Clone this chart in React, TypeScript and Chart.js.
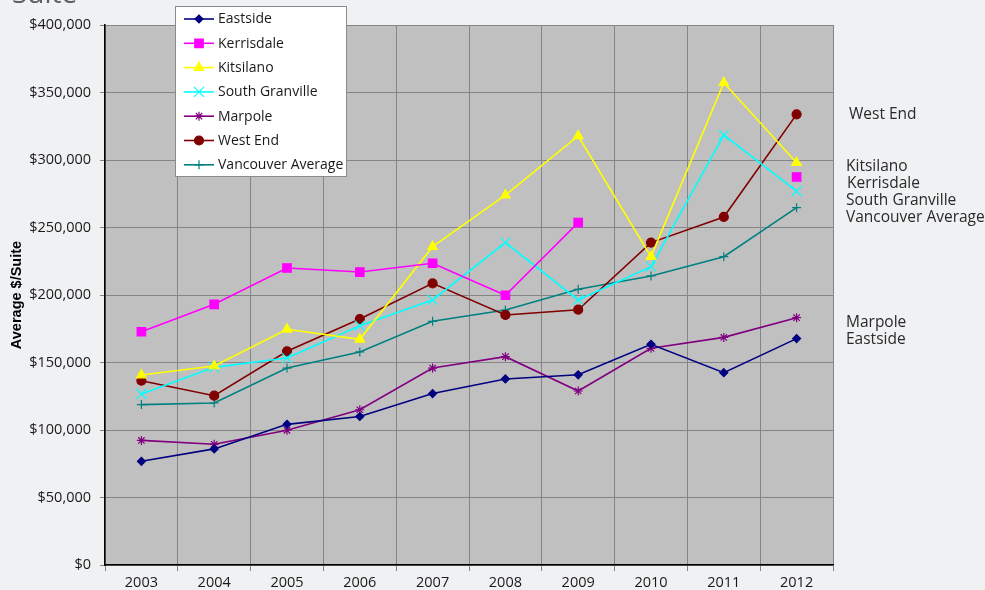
import React, { useEffect, useRef } from 'react';
import { Chart, registerables } from 'chart.js';
import { drawPoint } from 'chart.js/helpers';

Chart.register(...registerables);

const years = ['2003', '2004', '2005', '2006', '2007', '2008', '2009', '2010', '2011', '2012'];
const eastside = [76800, 86000, 104200, 110000, 127000, 137800, 140900, 163500, 142500, 167700];
const kerrisdale = [172800, 193100, 220000, 217000, 223500, 199800, 253600, null, null, 287400];
const kitsilano = [140700, 147400, 174600, 167200, 235800, 274000, 317800, 228400, 357300, 298000];
const southGranville = [126700, 146400, 153300, 177300, 196300, 238800, 196300, 221000, 318500, 277000];
const marpole = [92300, 89400, 99800, 115000, 145900, 154300, 128900, 160500, 168600, 183200];
const westEnd = [136500, 125400, 158300, 182200, 208600, 185200, 189100, 238800, 257800, 333800];
const vancouverAverage = [118800, 120000, 145900, 157800, 180500, 188900, 204200, 214100, 228400, 264700];

const yMin = 0;
const yMax = 400000;
const yStep = 50000;
const yTitle = 'Average $/Suite';
const pageTitle = 'Suite';

const seriesNames = ['Eastside', 'Kerrisdale', 'Kitsilano', 'South Granville', 'Marpole', 'West End', 'Vancouver Average'];
const seriesData = [eastside, kerrisdale, kitsilano, southGranville, marpole, westEnd, vancouverAverage];
const seriesColors = ['#000080', '#ff00ff', '#ffff00', '#00ffff', '#800080', '#800000', '#008080'];
const seriesMarkers = ['rectRot', 'rect', 'triangle', 'crossRot', 'star', 'circle', 'cross'];
const seriesRadius = [4, 6, 5.5, 7, 4.5, 4.5, 4.5];

// right-hand end labels
const endLabels = ['West End', 'Kitsilano', 'Kerrisdale', 'South Granville', 'Vancouver Average', 'Marpole', 'Eastside'];
const endLabelY = [115, 167, 184, 201, 218, 323, 340];
const endLabelX = [849, 846, 847, 846, 846, 846, 846];

const FONT = '"Open Sans", "Noto Sans", sans-serif';

const decorPlugin = {
  id: 'decor',
  beforeDraw(chart: any) {
    const { ctx, chartArea: a, width, height } = chart;
    ctx.save();
    ctx.fillStyle = '#f0f1f3';
    ctx.fillRect(0, 0, width, height);
    ctx.fillStyle = '#c0c0c0';
    ctx.fillRect(a.left, a.top, a.right - a.left, a.bottom - a.top);
    // partial slide title (cut off at the top)
    ctx.fillStyle = '#5f5f5f';
    ctx.font = `28px ${FONT}`;
    ctx.textBaseline = 'alphabetic';
    ctx.textAlign = 'left';
    ctx.fillText(pageTitle, 12, 3);
    ctx.restore();
  },
  afterDraw(chart: any) {
    const { ctx } = chart;
    ctx.save();
    const lx = 175.5, ly = 6.5, lw = 171, lh = 170;
    ctx.fillStyle = '#ffffff';
    ctx.fillRect(lx, ly, lw, lh);
    ctx.strokeStyle = '#8a8a8a';
    ctx.lineWidth = 1;
    ctx.strokeRect(lx, ly, lw, lh);
    ctx.font = `14px ${FONT}`;
    ctx.textBaseline = 'middle';
    ctx.textAlign = 'left';
    seriesNames.forEach((name, i) => {
      const y = 19 + i * 24.3;
      ctx.strokeStyle = seriesColors[i];
      ctx.lineWidth = 1.6;
      ctx.beginPath();
      ctx.moveTo(184, y);
      ctx.lineTo(214, y);
      ctx.stroke();
      ctx.fillStyle = seriesColors[i];
      ctx.strokeStyle = seriesColors[i];
      ctx.lineWidth = 1.2;
      drawPoint(ctx, { pointStyle: seriesMarkers[i] as any, rotation: 0, radius: seriesRadius[i], borderWidth: 1.2 } as any, 199, y);
      ctx.fillStyle = '#1a1a1a';
      ctx.fillText(name, 218, y + 0.5);
    });
    ctx.font = `15.5px ${FONT}`;
    ctx.fillStyle = '#2a2a2a';
    endLabels.forEach((t, i) => {
      ctx.fillText(t, endLabelX[i], endLabelY[i]);
    });
    ctx.restore();
  },
};

export default function App() {
  const ref = useRef<HTMLCanvasElement>(null);
  useEffect(() => {
    if (!ref.current) return;
    const chart = new Chart(ref.current, {
      type: 'line',
      data: {
        labels: years,
        datasets: seriesNames.map((name, i) => ({
          label: name,
          data: seriesData[i],
          borderColor: seriesColors[i],
          backgroundColor: seriesColors[i],
          pointBackgroundColor: seriesColors[i],
          pointBorderColor: seriesColors[i],
          pointStyle: seriesMarkers[i] as any,
          pointRadius: seriesRadius[i],
          pointBorderWidth: 1.2,
          borderWidth: 1.6,
          spanGaps: false,
          tension: 0,
          fill: false,
        })),
      },
      options: {
        animation: false,
        responsive: false,
        events: [],
        layout: { padding: { top: 25, right: 152, left: 0, bottom: 0 } },
        plugins: { legend: { display: false }, tooltip: { enabled: false }, title: { display: false } },
        scales: {
          x: {
            offset: true,
            grid: { offset: true, color: '#858585', lineWidth: 1, tickLength: 6, drawTicks: true },
            border: { color: '#000000', width: 1.5 },
            ticks: { color: '#1a1a1a', font: { family: FONT, size: 14.5 }, padding: 3, maxRotation: 0, autoSkip: false },
            afterFit: (s: any) => { s.height = 25; },
          },
          y: {
            min: yMin,
            max: yMax,
            ticks: {
              stepSize: yStep,
              color: '#1a1a1a',
              font: { family: FONT, size: 14.5 },
              padding: 9,
              callback: (v: any) => '$' + Number(v).toLocaleString('en-US'),
            },
            grid: { color: '#858585', lineWidth: 1, tickLength: 5 },
            border: { color: '#000000', width: 1.5 },
            title: {
              display: true,
              text: yTitle,
              color: '#000000',
              font: { family: '"Liberation Sans", Arial, sans-serif', size: 14.5, weight: 'bold' },
              padding: { top: 8, bottom: 0 },
            },
            afterFit: (s: any) => { s.width = 105; },
          },
        },
      },
      plugins: [decorPlugin],
    });
    return () => chart.destroy();
  }, []);
  return (
    <div style={{ position: 'fixed', left: 0, top: 0, width: 985, height: 590 }}>
      <canvas ref={ref} width={985} height={590} style={{ display: 'block' }} />
    </div>
  );
}
